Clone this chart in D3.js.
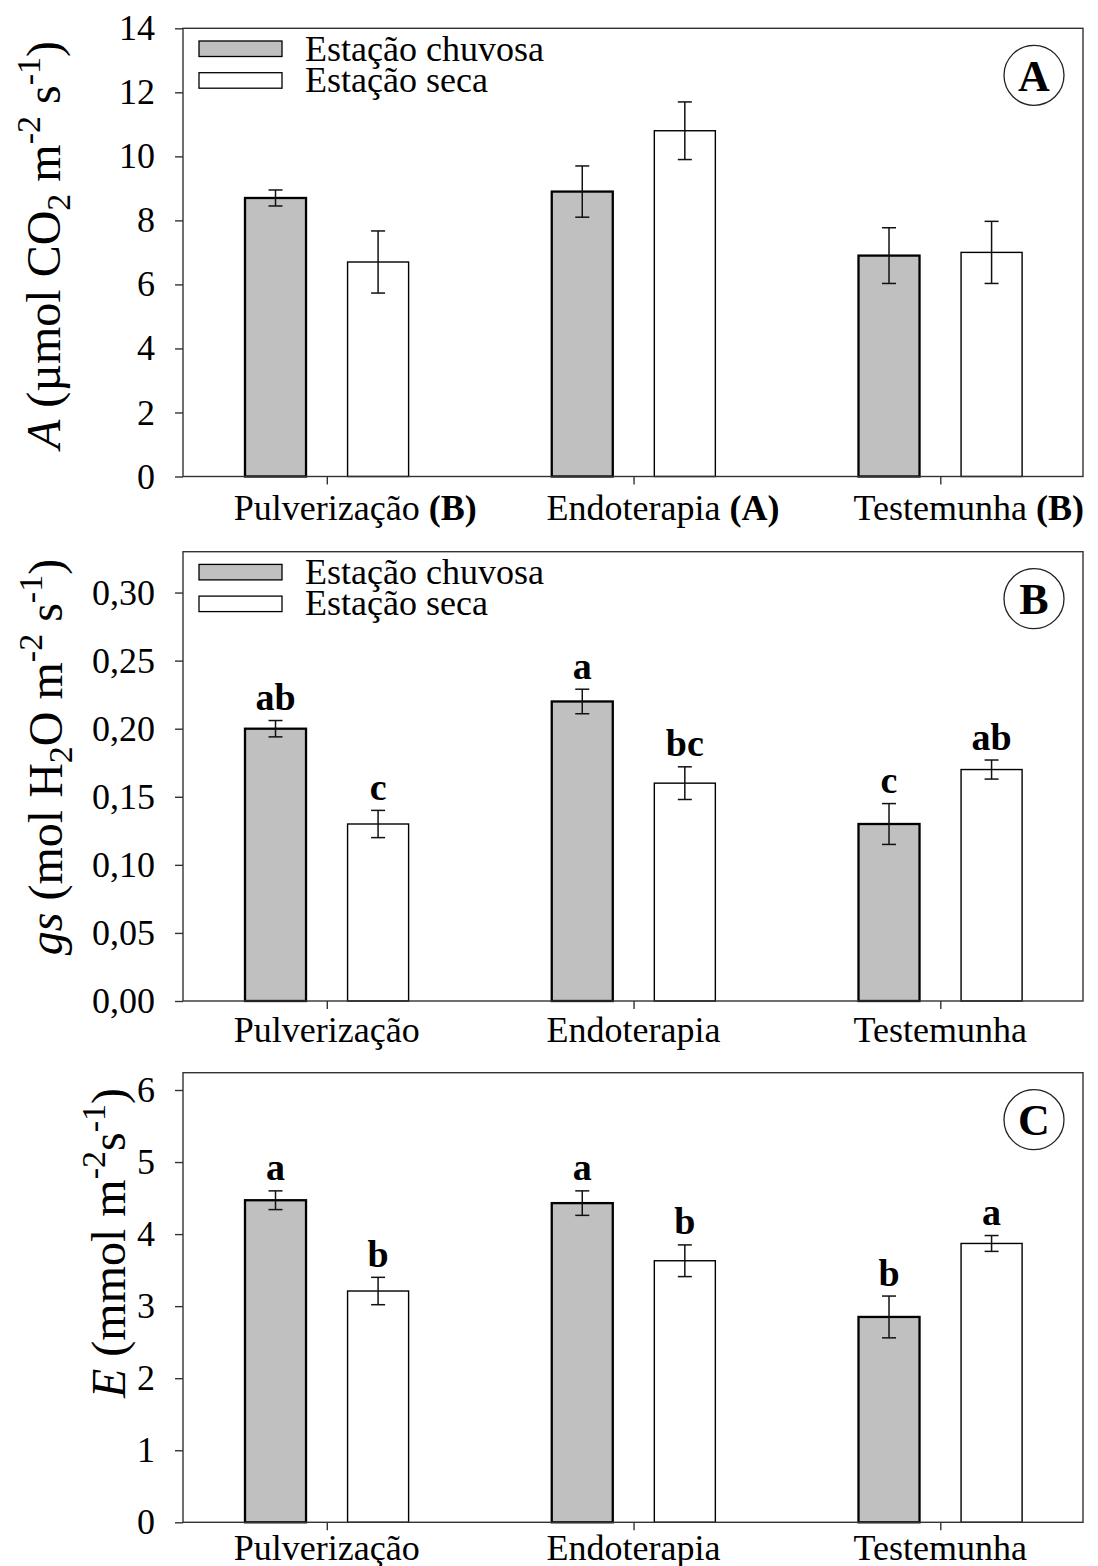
<!DOCTYPE html>
<html><head><meta charset="utf-8">
<script src="https://cdn.jsdelivr.net/npm/d3@7"></script>
<style>
body{margin:0;background:#fff}
svg{display:block}
text{font-family:"Liberation Serif","Times New Roman",serif;fill:#000}
</style>
</head><body>
<svg id="chart" width="1098" height="1566"></svg>
<script>
// ---------------- DATA ----------------
const categories = ["Pulverização", "Endoterapia", "Testemunha"];
const series = ["Estação chuvosa", "Estação seca"];

// Panel A : A (µmol CO2 m-2 s-1)
const aChuvosa    = [8.7, 8.9, 6.9];
const aChuvosaErr = [0.25, 0.8, 0.87];
const aSeca       = [6.7, 10.8, 7.0];
const aSecaErr    = [0.97, 0.9, 0.97];
const aCategorySuffix = ["(B)", "(A)", "(B)"];
const aTicks = [0, 2, 4, 6, 8, 10, 12, 14];

// Panel B : gs (mol H2O m-2 s-1)
const bChuvosa    = [0.20, 0.22, 0.13];
const bChuvosaErr = [0.006, 0.009, 0.015];
const bSeca       = [0.13, 0.16, 0.17];
const bSecaErr    = [0.010, 0.012, 0.007];
const bChuvosaLetters = ["ab", "a", "c"];
const bSecaLetters    = ["c", "bc", "ab"];
const bTicks = [0, 0.05, 0.10, 0.15, 0.20, 0.25, 0.30];

// Panel C : E (mmol m-2 s-1)
const cChuvosa    = [4.47, 4.43, 2.85];
const cChuvosaErr = [0.13, 0.17, 0.29];
const cSeca       = [3.21, 3.63, 3.87];
const cSecaErr    = [0.19, 0.22, 0.11];
const cChuvosaLetters = ["a", "a", "b"];
const cSecaLetters    = ["b", "b", "a"];
const cTicks = [0, 1, 2, 3, 4, 5, 6];

// Axis titles (text pieces: style n=normal, i=italic, sub, sup)
const aTitle = [["A","i"],[" (µmol CO","n"],["2","sub"],[" m","n"],["-2","sup"],[" s","n"],["-1","sup"],[")","n"]];
const bTitle = [["gs","i"],[" (mol H","n"],["2","sub"],["O m","n"],["-2","sup"],[" s","n"],["-1","sup"],[")","n"]];
const cTitle = [["E","i"],[" (mmol m","n"],["-2","sup"],["s","n"],["-1","sup"],[")","n"]];

const panelLetters = ["A", "B", "C"];

// ---------------- LAYOUT ----------------
const X0 = 183, X1 = 1083;
const commaFmt = f => d => d3.format(f)(d).replace(".", ",");
const panels = [
  {top: 28.3, bottom: 476.5, yMax: 14, ticks: aTicks, fmt: d3.format("d"),
   chuv: aChuvosa, chuvErr: aChuvosaErr, seca: aSeca, secaErr: aSecaErr,
   chuvL: null, secaL: null, suffix: aCategorySuffix, title: aTitle,
   titleX: 60, titleY: 245, labelOff: 43, legend: true, letter: panelLetters[0]},
  {top: 551.7, bottom: 1001, yMax: 0.33, ticks: bTicks, fmt: commaFmt(".2f"),
   chuv: bChuvosa, chuvErr: bChuvosaErr, seca: bSeca, secaErr: bSecaErr,
   chuvL: bChuvosaLetters, secaL: bSecaLetters, suffix: null, title: bTitle,
   titleX: 62, titleY: 757, labelOff: 41, legend: true, letter: panelLetters[1]},
  {top: 1072.7, bottom: 1522.3, yMax: 6.24, ticks: cTicks, fmt: d3.format("d"),
   chuv: cChuvosa, chuvErr: cChuvosaErr, seca: cSeca, secaErr: cSecaErr,
   chuvL: cChuvosaLetters, secaL: cSecaLetters, suffix: null, title: cTitle,
   titleX: 125, titleY: 1243, labelOff: 38, legend: false, letter: panelLetters[2]}
];

const svg = d3.select("#chart");
const fills = {[series[0]]: "#c0c0c0", [series[1]]: "#ffffff"};
const strokeW = {[series[0]]: 2.3, [series[1]]: 1.4};

const x = d3.scalePoint().domain(categories).range([X0 + 143.8, X0 + 757.3]);
const xs = d3.scaleBand().domain(series).range([-81.8, 81.8]).paddingInner(0.405);

panels.forEach(p => {
  const g = svg.append("g");
  const y = d3.scaleLinear().domain([0, p.yMax]).range([p.bottom, p.top]);

  const rows = [];
  categories.forEach((c, i) => {
    rows.push({c, s: series[0], v: p.chuv[i], e: p.chuvErr[i], l: p.chuvL ? p.chuvL[i] : null});
    rows.push({c, s: series[1], v: p.seca[i], e: p.secaErr[i], l: p.secaL ? p.secaL[i] : null});
  });

  // bars
  g.selectAll("rect.bar").data(rows).join("rect")
    .attr("class", "bar")
    .attr("x", d => x(d.c) + xs(d.s))
    .attr("width", xs.bandwidth())
    .attr("y", d => y(d.v))
    .attr("height", d => y(0) - y(d.v))
    .attr("fill", d => fills[d.s])
    .attr("stroke", "#000")
    .attr("stroke-width", d => strokeW[d.s]);

  // error bars
  const cap = 7;
  const eb = g.selectAll("g.err").data(rows).join("g").attr("class", "err")
    .attr("stroke", "#111").attr("stroke-width", 1.5);
  eb.append("line")
    .attr("x1", d => x(d.c) + xs(d.s) + xs.bandwidth() / 2)
    .attr("x2", d => x(d.c) + xs(d.s) + xs.bandwidth() / 2)
    .attr("y1", d => y(d.v - d.e)).attr("y2", d => y(d.v + d.e));
  [d => d.v - d.e, d => d.v + d.e].forEach(fv => {
    eb.append("line")
      .attr("x1", d => x(d.c) + xs(d.s) + xs.bandwidth() / 2 - cap)
      .attr("x2", d => x(d.c) + xs(d.s) + xs.bandwidth() / 2 + cap)
      .attr("y1", d => y(fv(d))).attr("y2", d => y(fv(d)));
  });

  // significance letters
  g.selectAll("text.sig").data(rows.filter(d => d.l)).join("text")
    .attr("class", "sig")
    .attr("x", d => x(d.c) + xs(d.s) + xs.bandwidth() / 2)
    .attr("y", d => y(d.v + d.e) - 10.5)
    .attr("text-anchor", "middle")
    .attr("font-size", 38).attr("font-weight", "bold")
    .text(d => d.l);

  // frame
  g.append("rect")
    .attr("x", X0).attr("y", p.top)
    .attr("width", X1 - X0).attr("height", p.bottom - p.top)
    .attr("fill", "none").attr("stroke", "#333").attr("stroke-width", 1.4);

  // y axis
  const ya = g.append("g").attr("transform", `translate(${X0},0)`)
    .call(d3.axisLeft(y).tickValues(p.ticks).tickSize(8).tickPadding(20).tickFormat(p.fmt));
  ya.select(".domain").remove();
  ya.selectAll(".tick line").attr("stroke", "#333").attr("stroke-width", 1.4);
  ya.selectAll(".tick text").attr("font-size", 36)
    .attr("font-family", '"Liberation Serif","Times New Roman",serif').attr("fill", "#000");

  // x axis ticks
  const xa = g.append("g").attr("transform", `translate(0,${p.bottom})`)
    .call(d3.axisBottom(x).tickSize(8).tickFormat(""));
  xa.select(".domain").remove();
  xa.selectAll(".tick line").attr("stroke", "#333").attr("stroke-width", 1.4);

  // category labels
  categories.forEach((c, i) => {
    const t = g.append("text")
      .attr("x", x(c)).attr("y", p.bottom + p.labelOff)
      .attr("text-anchor", "middle").attr("font-size", 36).text(c);
    if (p.suffix) {
      const w = t.node().getComputedTextLength();
      t.attr("text-anchor", "start").attr("x", x(c) - w / 2);
      t.append("tspan").text(" ");
      t.append("tspan").attr("font-weight", "bold").text(p.suffix[i]);
    }
  });

  // legend
  if (p.legend) {
    series.forEach((s, k) => {
      g.append("rect")
        .attr("x", X0 + 16).attr("y", p.top + 12.7 + k * 31.7)
        .attr("width", 83).attr("height", 15.5)
        .attr("fill", fills[s]).attr("stroke", "#000").attr("stroke-width", 1.3);
      g.append("text")
        .attr("x", X0 + 122).attr("y", p.top + 32.4 + k * 31)
        .attr("font-size", 36).text(s);
    });
  }

  // panel letter in circle
  const cx = X1 - 49, cy = p.top + 47;
  g.append("circle").attr("cx", cx).attr("cy", cy).attr("r", 30)
    .attr("fill", "none").attr("stroke", "#222").attr("stroke-width", 1.3);
  g.append("text").attr("x", cx).attr("y", cy).attr("dy", "0.35em")
    .attr("text-anchor", "middle").attr("font-size", 44).attr("font-weight", "bold")
    .text(p.letter);

  // y title
  const tt = g.append("text")
    .attr("transform", `translate(${p.titleX},${p.titleY}) rotate(-90)`)
    .attr("text-anchor", "middle").attr("font-size", 48);
  let shift = 0;
  p.title.forEach(([txt, st]) => {
    const ts = tt.append("tspan").text(txt);
    let target = 0;
    if (st === "i") ts.attr("font-style", "italic");
    if (st === "sup") { ts.attr("font-size", 34); target = -20; }
    if (st === "sub") { ts.attr("font-size", 34); target = 10; }
    ts.attr("dy", target - shift);
    shift = target;
  });
});
</script>
</body></html>
